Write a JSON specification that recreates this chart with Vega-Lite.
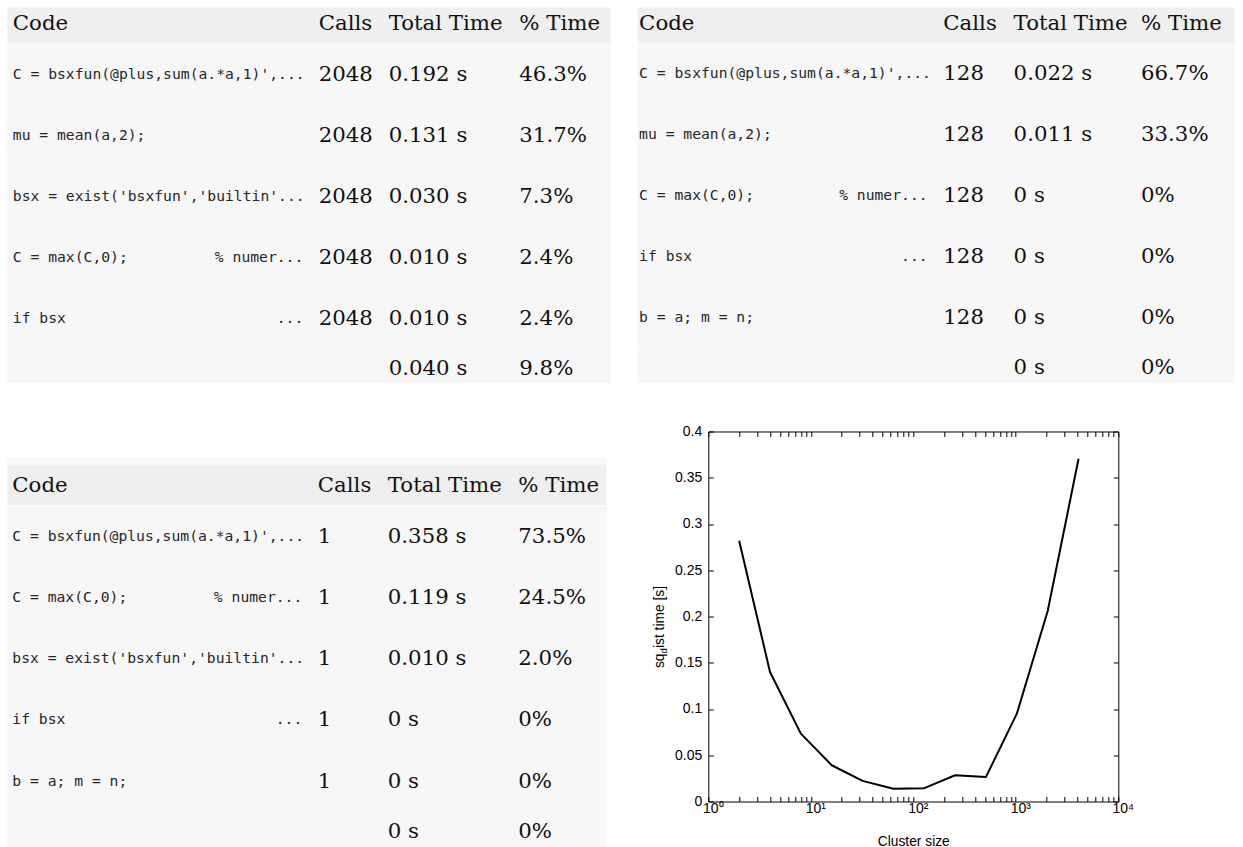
{
  "$schema": "https://vega.github.io/schema/vega-lite/v6.json",
  "background": "#ffffff",
  "padding": {"left": 7.3, "top": 7.5, "right": 0, "bottom": 0},
  "config": {"view": {"stroke": null}, "axis": {"grid": false}},
  "datasets": {
    "headers": [
      {"col": 0, "label": "Code"},
      {"col": 2, "label": "Calls"},
      {"col": 3, "label": "Total Time"},
      {"col": 4, "label": "% Time"}
    ],
    "lines": [
      {"run": 1, "rank": 1, "code": "C = bsxfun(@plus,sum(a.*a,1)',...", "tail": "", "calls": 2048, "time": 0.192, "pct": 46.3},
      {"run": 1, "rank": 2, "code": "mu = mean(a,2);", "tail": "", "calls": 2048, "time": 0.131, "pct": 31.7},
      {"run": 1, "rank": 3, "code": "bsx = exist('bsxfun','builtin'...", "tail": "", "calls": 2048, "time": 0.030, "pct": 7.3},
      {"run": 1, "rank": 4, "code": "C = max(C,0);", "tail": "% numer...", "calls": 2048, "time": 0.010, "pct": 2.4},
      {"run": 1, "rank": 5, "code": "if bsx", "tail": "...", "calls": 2048, "time": 0.010, "pct": 2.4},
      {"run": 2, "rank": 1, "code": "C = bsxfun(@plus,sum(a.*a,1)',...", "tail": "", "calls": 128, "time": 0.022, "pct": 66.7},
      {"run": 2, "rank": 2, "code": "mu = mean(a,2);", "tail": "", "calls": 128, "time": 0.011, "pct": 33.3},
      {"run": 2, "rank": 3, "code": "C = max(C,0);", "tail": "% numer...", "calls": 128, "time": 0, "pct": 0},
      {"run": 2, "rank": 4, "code": "if bsx", "tail": "...", "calls": 128, "time": 0, "pct": 0},
      {"run": 2, "rank": 5, "code": "b = a; m = n;", "tail": "", "calls": 128, "time": 0, "pct": 0},
      {"run": 3, "rank": 1, "code": "C = bsxfun(@plus,sum(a.*a,1)',...", "tail": "", "calls": 1, "time": 0.358, "pct": 73.5},
      {"run": 3, "rank": 2, "code": "C = max(C,0);", "tail": "% numer...", "calls": 1, "time": 0.119, "pct": 24.5},
      {"run": 3, "rank": 3, "code": "bsx = exist('bsxfun','builtin'...", "tail": "", "calls": 1, "time": 0.010, "pct": 2.0},
      {"run": 3, "rank": 4, "code": "if bsx", "tail": "...", "calls": 1, "time": 0, "pct": 0},
      {"run": 3, "rank": 5, "code": "b = a; m = n;", "tail": "", "calls": 1, "time": 0, "pct": 0}
    ],
    "overhead": [
      {"run": 1, "time": 0.040, "pct": 9.8},
      {"run": 2, "time": 0, "pct": 0},
      {"run": 3, "time": 0, "pct": 0}
    ],
    "timing": [
      {"clusterSize": 2, "seconds": 0.282},
      {"clusterSize": 4, "seconds": 0.140},
      {"clusterSize": 8, "seconds": 0.0734},
      {"clusterSize": 16, "seconds": 0.0392},
      {"clusterSize": 32, "seconds": 0.0223},
      {"clusterSize": 64, "seconds": 0.0137},
      {"clusterSize": 128, "seconds": 0.0144},
      {"clusterSize": 256, "seconds": 0.0284},
      {"clusterSize": 512, "seconds": 0.0266},
      {"clusterSize": 1024, "seconds": 0.095},
      {"clusterSize": 2048, "seconds": 0.206},
      {"clusterSize": 4096, "seconds": 0.3705}
    ]
  },
  "spacing": 41,
  "vconcat": [
    {
      "spacing": 26.3,
      "hconcat": [
        {
          "spacing": 0,
          "vconcat": [
            {
              "width": 603.4, "height": 35,
              "view": {"fill": "#efefef"},
              "data": {"name": "headers"},
              "mark": {"type": "text", "align": "left", "baseline": "middle", "font": "DejaVu Serif", "fontSize": 21.3, "color": "#111111", "dy": -1.5},
              "encoding": {
                "x": {"field": "col", "type": "quantitative", "axis": null, "scale": {"domain": [0, 1, 2, 3, 4], "range": [5.5, 296, 311.4, 381.4, 512], "zero": false, "nice": false}},
                "text": {"field": "label", "type": "nominal"}
              }
            },
            {
              "width": 603.4, "height": 305,
              "view": {"fill": "#f7f7f7"},
              "data": {"name": "lines"},
              "transform": [
                {"filter": "datum.run === 1"},
                {"calculate": "datum.time === 0 ? '0 s' : format(datum.time, '.3f') + ' s'", "as": "timeText"},
                {"calculate": "datum.pct === 0 ? '0%' : format(datum.pct, '.1f') + '%'", "as": "pctText"}
              ],
              "encoding": {"y": {"field": "rank", "type": "ordinal", "axis": null}},
              "layer": [
                {"mark": {"type": "text", "align": "left", "baseline": "middle", "font": "DejaVu Sans Mono", "fontSize": 14.7, "color": "#262626", "dy": 2},
                 "encoding": {"x": {"datum": 0, "type": "quantitative", "axis": null, "scale": {"domain": [0, 1, 2, 3, 4], "range": [5.5, 296, 311.4, 381.4, 512], "zero": false, "nice": false}}, "text": {"field": "code", "type": "nominal"}}},
                {"mark": {"type": "text", "align": "right", "baseline": "middle", "font": "DejaVu Sans Mono", "fontSize": 14.7, "color": "#262626", "dy": 2},
                 "encoding": {"x": {"datum": 1, "type": "quantitative", "axis": null}, "text": {"field": "tail", "type": "nominal"}}},
                {"mark": {"type": "text", "align": "left", "baseline": "middle", "font": "DejaVu Serif", "fontSize": 21.3, "color": "#111111", "dy": 1.5},
                 "encoding": {"x": {"datum": 2, "type": "quantitative", "axis": null}, "text": {"field": "calls", "type": "nominal"}}},
                {"mark": {"type": "text", "align": "left", "baseline": "middle", "font": "DejaVu Serif", "fontSize": 21.3, "color": "#111111", "dy": 1.5},
                 "encoding": {"x": {"datum": 3, "type": "quantitative", "axis": null}, "text": {"field": "timeText", "type": "nominal"}}},
                {"mark": {"type": "text", "align": "left", "baseline": "middle", "font": "DejaVu Serif", "fontSize": 21.3, "color": "#111111", "dy": 1.5},
                 "encoding": {"x": {"datum": 4, "type": "quantitative", "axis": null}, "text": {"field": "pctText", "type": "nominal"}}}
              ]
            },
            {
              "width": 603.4, "height": 35.5,
              "view": {"fill": "#f7f7f7"},
              "data": {"name": "overhead"},
              "transform": [
                {"filter": "datum.run === 1"},
                {"calculate": "datum.time === 0 ? '0 s' : format(datum.time, '.3f') + ' s'", "as": "timeText"},
                {"calculate": "datum.pct === 0 ? '0%' : format(datum.pct, '.1f') + '%'", "as": "pctText"}
              ],
              "layer": [
                {"mark": {"type": "text", "align": "left", "baseline": "middle", "font": "DejaVu Serif", "fontSize": 21.3, "color": "#111111", "dy": 3.5},
                 "encoding": {"x": {"datum": 3, "type": "quantitative", "axis": null, "scale": {"domain": [0, 1, 2, 3, 4], "range": [5.5, 296, 311.4, 381.4, 512], "zero": false, "nice": false}}, "text": {"field": "timeText", "type": "nominal"}}},
                {"mark": {"type": "text", "align": "left", "baseline": "middle", "font": "DejaVu Serif", "fontSize": 21.3, "color": "#111111", "dy": 3.5},
                 "encoding": {"x": {"datum": 4, "type": "quantitative", "axis": null}, "text": {"field": "pctText", "type": "nominal"}}}
              ]
            }
          ]
        },
        {
          "spacing": 0,
          "vconcat": [
            {
              "width": 597, "height": 35,
              "view": {"fill": "#efefef"},
              "data": {"name": "headers"},
              "mark": {"type": "text", "align": "left", "baseline": "middle", "font": "DejaVu Serif", "fontSize": 21.3, "color": "#111111", "dy": -1.5},
              "encoding": {
                "x": {"field": "col", "type": "quantitative", "axis": null, "scale": {"domain": [0, 1, 2, 3, 4], "range": [1.5, 290, 305.7, 376, 503.4], "zero": false, "nice": false}},
                "text": {"field": "label", "type": "nominal"}
              }
            },
            {
              "width": 597, "height": 305,
              "view": {"fill": "#f7f7f7"},
              "data": {"name": "lines"},
              "transform": [
                {"filter": "datum.run === 2"},
                {"calculate": "datum.time === 0 ? '0 s' : format(datum.time, '.3f') + ' s'", "as": "timeText"},
                {"calculate": "datum.pct === 0 ? '0%' : format(datum.pct, '.1f') + '%'", "as": "pctText"}
              ],
              "encoding": {"y": {"field": "rank", "type": "ordinal", "axis": null}},
              "layer": [
                {"mark": {"type": "text", "align": "left", "baseline": "middle", "font": "DejaVu Sans Mono", "fontSize": 14.7, "color": "#262626", "dy": 1},
                 "encoding": {"x": {"datum": 0, "type": "quantitative", "axis": null, "scale": {"domain": [0, 1, 2, 3, 4], "range": [1.5, 290, 305.7, 376, 503.4], "zero": false, "nice": false}}, "text": {"field": "code", "type": "nominal"}}},
                {"mark": {"type": "text", "align": "right", "baseline": "middle", "font": "DejaVu Sans Mono", "fontSize": 14.7, "color": "#262626", "dy": 1},
                 "encoding": {"x": {"datum": 1, "type": "quantitative", "axis": null}, "text": {"field": "tail", "type": "nominal"}}},
                {"mark": {"type": "text", "align": "left", "baseline": "middle", "font": "DejaVu Serif", "fontSize": 21.3, "color": "#111111", "dy": 0.5},
                 "encoding": {"x": {"datum": 2, "type": "quantitative", "axis": null}, "text": {"field": "calls", "type": "nominal"}}},
                {"mark": {"type": "text", "align": "left", "baseline": "middle", "font": "DejaVu Serif", "fontSize": 21.3, "color": "#111111", "dy": 0.5},
                 "encoding": {"x": {"datum": 3, "type": "quantitative", "axis": null}, "text": {"field": "timeText", "type": "nominal"}}},
                {"mark": {"type": "text", "align": "left", "baseline": "middle", "font": "DejaVu Serif", "fontSize": 21.3, "color": "#111111", "dy": 0.5},
                 "encoding": {"x": {"datum": 4, "type": "quantitative", "axis": null}, "text": {"field": "pctText", "type": "nominal"}}}
              ]
            },
            {
              "width": 597, "height": 35.5,
              "view": {"fill": "#f7f7f7"},
              "data": {"name": "overhead"},
              "transform": [
                {"filter": "datum.run === 2"},
                {"calculate": "datum.time === 0 ? '0 s' : format(datum.time, '.3f') + ' s'", "as": "timeText"},
                {"calculate": "datum.pct === 0 ? '0%' : format(datum.pct, '.1f') + '%'", "as": "pctText"}
              ],
              "layer": [
                {"mark": {"type": "text", "align": "left", "baseline": "middle", "font": "DejaVu Serif", "fontSize": 21.3, "color": "#111111", "dy": 2.5},
                 "encoding": {"x": {"datum": 3, "type": "quantitative", "axis": null, "scale": {"domain": [0, 1, 2, 3, 4], "range": [1.5, 290, 305.7, 376, 503.4], "zero": false, "nice": false}}, "text": {"field": "timeText", "type": "nominal"}}},
                {"mark": {"type": "text", "align": "left", "baseline": "middle", "font": "DejaVu Serif", "fontSize": 21.3, "color": "#111111", "dy": 2.5},
                 "encoding": {"x": {"datum": 4, "type": "quantitative", "axis": null}, "text": {"field": "pctText", "type": "nominal"}}}
              ]
            }
          ]
        }
      ]
    },
    {
      "spacing": 45,
      "hconcat": [
        {
          "spacing": 0,
          "vconcat": [
            {"width": 599.4, "height": 25.3, "data": {"values": []}, "mark": "rect"},
            {"width": 599.4, "height": 6.7, "view": {"fill": "#f7f7f7"}, "data": {"values": []}, "mark": "rect"},
            {
              "width": 599.4, "height": 40.6,
              "view": {"fill": "#efefef"},
              "data": {"name": "headers"},
              "mark": {"type": "text", "align": "left", "baseline": "middle", "font": "DejaVu Serif", "fontSize": 21.3, "color": "#111111", "dy": 1.4},
              "encoding": {
                "x": {"field": "col", "type": "quantitative", "axis": null, "scale": {"domain": [0, 1, 2, 3, 4], "range": [5, 295, 310.5, 380.5, 511], "zero": false, "nice": false}},
                "text": {"field": "label", "type": "nominal"}
              }
            },
            {
              "width": 599.4, "height": 306.2,
              "view": {"fill": "#f7f7f7"},
              "data": {"name": "lines"},
              "transform": [
                {"filter": "datum.run === 3"},
                {"calculate": "datum.time === 0 ? '0 s' : format(datum.time, '.3f') + ' s'", "as": "timeText"},
                {"calculate": "datum.pct === 0 ? '0%' : format(datum.pct, '.1f') + '%'", "as": "pctText"}
              ],
              "encoding": {"y": {"field": "rank", "type": "ordinal", "axis": null}},
              "layer": [
                {"mark": {"type": "text", "align": "left", "baseline": "middle", "font": "DejaVu Sans Mono", "fontSize": 14.7, "color": "#262626", "dy": 0.5},
                 "encoding": {"x": {"datum": 0, "type": "quantitative", "axis": null, "scale": {"domain": [0, 1, 2, 3, 4], "range": [5, 295, 310.5, 380.5, 511], "zero": false, "nice": false}}, "text": {"field": "code", "type": "nominal"}}},
                {"mark": {"type": "text", "align": "right", "baseline": "middle", "font": "DejaVu Sans Mono", "fontSize": 14.7, "color": "#262626", "dy": 0.5},
                 "encoding": {"x": {"datum": 1, "type": "quantitative", "axis": null}, "text": {"field": "tail", "type": "nominal"}}},
                {"mark": {"type": "text", "align": "left", "baseline": "middle", "font": "DejaVu Serif", "fontSize": 21.3, "color": "#111111", "dy": 0.5},
                 "encoding": {"x": {"datum": 2, "type": "quantitative", "axis": null}, "text": {"field": "calls", "type": "nominal"}}},
                {"mark": {"type": "text", "align": "left", "baseline": "middle", "font": "DejaVu Serif", "fontSize": 21.3, "color": "#111111", "dy": 0.5},
                 "encoding": {"x": {"datum": 3, "type": "quantitative", "axis": null}, "text": {"field": "timeText", "type": "nominal"}}},
                {"mark": {"type": "text", "align": "left", "baseline": "middle", "font": "DejaVu Serif", "fontSize": 21.3, "color": "#111111", "dy": 0.5},
                 "encoding": {"x": {"datum": 4, "type": "quantitative", "axis": null}, "text": {"field": "pctText", "type": "nominal"}}}
              ]
            },
            {
              "width": 599.4, "height": 36.8,
              "view": {"fill": "#f7f7f7"},
              "data": {"name": "overhead"},
              "transform": [
                {"filter": "datum.run === 3"},
                {"calculate": "datum.time === 0 ? '0 s' : format(datum.time, '.3f') + ' s'", "as": "timeText"},
                {"calculate": "datum.pct === 0 ? '0%' : format(datum.pct, '.1f') + '%'", "as": "pctText"}
              ],
              "layer": [
                {"mark": {"type": "text", "align": "left", "baseline": "middle", "font": "DejaVu Serif", "fontSize": 21.3, "color": "#111111", "dy": 1.5},
                 "encoding": {"x": {"datum": 3, "type": "quantitative", "axis": null, "scale": {"domain": [0, 1, 2, 3, 4], "range": [5, 295, 310.5, 380.5, 511], "zero": false, "nice": false}}, "text": {"field": "timeText", "type": "nominal"}}},
                {"mark": {"type": "text", "align": "left", "baseline": "middle", "font": "DejaVu Serif", "fontSize": 21.3, "color": "#111111", "dy": 1.5},
                 "encoding": {"x": {"datum": 4, "type": "quantitative", "axis": null}, "text": {"field": "pctText", "type": "nominal"}}}
              ]
            }
          ]
        },
        {
          "width": 410, "height": 370,
          "resolve": {"axis": {"x": "independent", "y": "independent"}},
          "layer": [
            {
              "data": {"name": "timing"},
              "mark": {"type": "line", "color": "#000000", "strokeWidth": 2, "strokeJoin": "round"},
              "encoding": {
                "x": {
                  "field": "clusterSize", "type": "quantitative",
                  "scale": {"type": "log", "domain": [1, 10000], "nice": false},
                  "axis": {
                    "orient": "bottom",
                    "values": [1, 2, 3, 4, 5, 6, 7, 8, 9, 10, 20, 30, 40, 50, 60, 70, 80, 90, 100, 200, 300, 400, 500, 600, 700, 800, 900, 1000, 2000, 3000, 4000, 5000, 6000, 7000, 8000, 9000, 10000],
                    "labelExpr": "datum.value === 1 ? '10⁰' : datum.value === 10 ? '10¹' : datum.value === 100 ? '10²' : datum.value === 1000 ? '10³' : datum.value === 10000 ? '10⁴' : ''",
                    "tickSize": -5, "tickColor": "#000000", "domainColor": "#000000",
                    "labelPadding": 5.5, "labelOffset": 4.5,
                    "labelFont": "Liberation Sans", "labelFontSize": 14, "labelColor": "#000000",
                    "labelOverlap": false, "labelFlush": false, "labelBound": false,
                    "title": "Cluster size", "titleFont": "Liberation Sans", "titleFontSize": 13.8,
                    "titleFontWeight": "normal", "titleColor": "#000000", "titlePadding": 18.5
                  }
                },
                "y": {
                  "field": "seconds", "type": "quantitative",
                  "scale": {"domain": [0, 0.4], "nice": false, "zero": false},
                  "axis": {
                    "orient": "left",
                    "values": [0, 0.05, 0.1, 0.15, 0.2, 0.25, 0.3, 0.35, 0.4],
                    "format": ".2~f",
                    "tickSize": -5, "tickColor": "#000000", "domainColor": "#000000",
                    "labelPadding": 11.5,
                    "labelFont": "Liberation Sans", "labelFontSize": 14, "labelColor": "#000000",
                    "labelOverlap": false, "labelFlush": false, "labelBound": false,
                    "title": null
                  }
                }
              }
            },
            {
              "data": {"values": [{}]},
              "mark": {"type": "text", "text": "sq", "angle": 270, "align": "right", "baseline": "middle", "font": "Liberation Sans", "fontSize": 13.8, "color": "#000000"},
              "encoding": {
                "x": {
                  "datum": 0.336, "type": "quantitative",
                  "scale": {"type": "log", "domain": [1, 10000], "nice": false},
                  "axis": {
                    "orient": "top",
                    "values": [1, 2, 3, 4, 5, 6, 7, 8, 9, 10, 20, 30, 40, 50, 60, 70, 80, 90, 100, 200, 300, 400, 500, 600, 700, 800, 900, 1000, 2000, 3000, 4000, 5000, 6000, 7000, 8000, 9000, 10000],
                    "labels": false, "tickSize": -5, "tickColor": "#000000", "domainColor": "#000000", "title": null
                  }
                },
                "y": {
                  "datum": 0.16, "type": "quantitative",
                  "scale": {"domain": [0, 0.4], "nice": false, "zero": false},
                  "axis": {
                    "orient": "right",
                    "values": [0, 0.05, 0.1, 0.15, 0.2, 0.25, 0.3, 0.35, 0.4],
                    "labels": false, "tickSize": -5, "tickColor": "#000000", "domainColor": "#000000", "title": null
                  }
                }
              }
            },
            {
              "data": {"values": [{}]},
              "mark": {"type": "text", "text": "d", "angle": 270, "align": "left", "baseline": "middle", "font": "Liberation Sans", "fontSize": 9.5, "color": "#000000", "dy": 4},
              "encoding": {
                "x": {"datum": 0.336, "type": "quantitative", "scale": {"type": "log", "domain": [1, 10000], "nice": false}, "axis": null},
                "y": {"datum": 0.16, "type": "quantitative", "scale": {"domain": [0, 0.4], "nice": false, "zero": false}, "axis": null}
              }
            },
            {
              "data": {"values": [{}]},
              "mark": {"type": "text", "text": "ist time [s]", "angle": 270, "align": "left", "baseline": "middle", "font": "Liberation Sans", "fontSize": 13.8, "color": "#000000", "dx": 5.5},
              "encoding": {
                "x": {"datum": 0.336, "type": "quantitative", "scale": {"type": "log", "domain": [1, 10000], "nice": false}, "axis": null},
                "y": {"datum": 0.16, "type": "quantitative", "scale": {"domain": [0, 0.4], "nice": false, "zero": false}, "axis": null}
              }
            }
          ]
        }
      ]
    }
  ]
}
